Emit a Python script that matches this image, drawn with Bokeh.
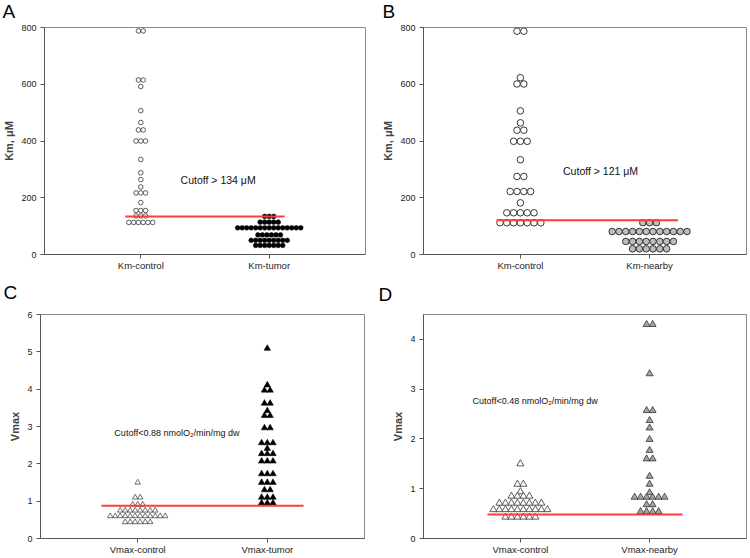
from bokeh.plotting import figure
from bokeh.layouts import column, row
from bokeh.models import FixedTicker, Label
from bokeh.embed import file_html
from bokeh.resources import INLINE

FONT = "Liberation Sans"

# ---------------- data ----------------
km_cats_a = ["Km-control", "Km-tumor"]
km_control_a = [788, 788, 615, 615, 592, 507, 465, 439, 439, 400, 400, 400, 335, 288, 264, 238,
                217, 217, 217, 183, 155, 155, 155, 136, 136, 136, 113, 113, 113, 113, 113, 113]
km_tumor = [134, 134, 134, 114, 114, 114, 114, 114,
            94, 94, 94, 94, 94, 94, 94, 94, 94, 94, 94, 94, 94, 94, 94,
            69, 69, 69, 69, 69, 69, 50, 50, 50, 50, 50, 50, 50, 50, 50,
            32, 32, 32, 32, 32, 32, 32]
km_cutoff_a = 134

km_cats_b = ["Km-control", "Km-nearby"]
km_control_b = [787, 787, 623, 601, 601, 506, 464, 438, 438, 399, 399, 399, 334, 275, 275,
                222, 222, 222, 222, 182, 147, 147, 147, 147, 147, 112, 112, 112, 112, 112, 112, 112]
km_nearby = [112, 112, 112, 81, 81, 81, 81, 81, 81, 81, 81, 81, 81, 81, 81,
             46, 46, 46, 46, 46, 46, 46, 46, 20, 20, 20, 20, 20, 20]
km_cutoff_b = 121

vm_cats_c = ["Vmax-control", "Vmax-tumor"]
vm_control_c = [1.50, 1.10, 1.10, 0.91, 0.91, 0.91,
                0.75, 0.75, 0.75, 0.75, 0.75, 0.75, 0.75, 0.75,
                0.60, 0.60, 0.60, 0.60, 0.60, 0.60, 0.60, 0.60, 0.60, 0.60, 0.60, 0.60,
                0.44, 0.44, 0.44, 0.44, 0.44, 0.44]
vm_tumor = [5.09, 4.11, 3.97, 3.97, 3.62, 3.62, 3.42, 3.29, 3.29, 2.96, 2.96,
            2.56, 2.56, 2.56, 2.41, 2.27, 2.27, 2.27, 2.07, 2.07, 2.07,
            1.73, 1.73, 1.73, 1.50, 1.50, 1.50, 1.30, 1.30, 1.10, 1.10, 1.10, 0.95, 0.95, 0.95]
vm_cutoff_c = 0.88

vm_cats_d = ["Vmax-control", "Vmax-nearby"]
vm_control_d = [1.50, 1.09, 1.09, 0.94, 0.85, 0.85, 0.85, 0.85,
                0.71, 0.71, 0.71, 0.71, 0.71, 0.71, 0.71, 0.71,
                0.58, 0.58, 0.58, 0.58, 0.58, 0.58, 0.58, 0.58, 0.58, 0.58,
                0.43, 0.43, 0.43, 0.43, 0.43, 0.43]
vm_nearby = [4.30, 4.30, 3.31, 2.57, 2.57, 2.37, 2.22, 1.99, 1.77, 1.60, 1.60, 1.25, 1.09, 0.92,
             0.83, 0.83, 0.83, 0.83, 0.83, 0.83, 0.68, 0.68, 0.54, 0.54, 0.54, 0.54]
vm_cutoff_d = 0.48

km_ticks = [0, 200, 400, 600, 800]
vm_ticks_c = [0, 1, 2, 3, 4, 5, 6]
vm_ticks_d = [0, 1, 2, 3, 4]


def swarm(center, values, spacing_px, px_per_unit):
    xs, ys = [], []
    seen = []
    for v in values:
        if v not in seen:
            seen.append(v)
    for v in seen:
        n = values.count(v)
        for i in range(n):
            xs.append(center + (i - (n - 1) / 2) * spacing_px / px_per_unit)
            ys.append(v)
    return xs, ys


def letter_fig(letter, width, height, lx, ly):
    f = figure(width=width, height=height, output_backend="svg", toolbar_location=None, title=None,
               x_axis_type=None, y_axis_type=None, min_border=0, x_range=(0, 1), y_range=(0, 1))
    f.grid.visible = False
    f.outline_line_color = None
    f.add_layout(Label(x=lx, y=ly, x_units="screen", y_units="screen", text=letter, text_font=FONT,
                       text_font_size="19px", text_color="black", text_baseline="top"))
    return f


def panel(cats, ymax, ticks, ylabel, width, height, fw, fh, bl, bt):
    br = width - bl - fw
    bb = height - bt - fh
    p = figure(width=width, height=height, output_backend="svg", toolbar_location=None, title=None,
               x_range=(0.25, 2.75), y_range=(0, ymax), min_border_left=bl, min_border_top=bt,
               min_border_right=br, min_border_bottom=bb)
    p.grid.visible = False
    p.outline_line_color = "#8a8a8a"
    p.outline_line_width = 1
    p.xaxis.ticker = FixedTicker(ticks=[1, 2])
    p.xaxis.major_label_overrides = {1: cats[0], 2: cats[1]}
    p.yaxis.ticker = FixedTicker(ticks=ticks)
    for ax in (p.xaxis[0], p.yaxis[0]):
        ax.axis_line_color = "#555555"
        ax.major_tick_line_color = "#555555"
        ax.minor_tick_line_color = None
        ax.major_tick_in = 0
        ax.major_tick_out = 4
        ax.major_label_text_font = FONT
        ax.major_label_text_color = "#222222"
    p.xaxis.major_label_text_font_size = "9.5px"
    p.xaxis.major_label_standoff = 1
    p.yaxis.major_label_text_font_size = "9px"
    p.yaxis.major_label_standoff = 4
    p.yaxis.axis_label = ylabel
    p.yaxis.axis_label_text_font = FONT
    p.yaxis.axis_label_text_font_style = "bold"
    p.yaxis.axis_label_text_font_size = "11px"
    p.yaxis.axis_label_standoff = 3
    return p


# layout geometry (page starts at 0,0)
W1, W2 = 378, 370
LH1, LH2 = 22, 28
H1, H2 = 259, 248
FW1, FW2 = 324, 323
FH = 227

LA = letter_fig("A", W1, LH1, 2, 22)
LB = letter_fig("B", W2, LH1, 4, 22)
LC = letter_fig("C", W1, LH2, 3, 28)
LD = letter_fig("D", W2, LH2, 0, 26)

# ---- A ----
pA = panel(km_cats_a, 800, km_ticks, "Km, \u03bcM", W1, H1, FW1, FH, 41, 5)
ppu = FW1 / 2.5
x, y = swarm(1, km_control_a, 4.8, ppu)
pA.scatter(x, y, marker="circle", size=4.6, fill_color="white", line_color="#333333", line_width=0.8)
x, y = swarm(2, km_tumor, 4.55, ppu)
pA.scatter(x, y, marker="circle", size=4.8, fill_color="black", line_color="black", line_width=0.5)
pA.line([0.88, 2.12], [km_cutoff_a, km_cutoff_a], line_color="#ff3b3b", line_width=2)
pA.text([1.31], [261], text=["Cutoff > 134 \u03bcM"], text_font={"value": FONT}, text_font_size="10.5px",
        text_baseline="middle", text_color="#111111")

# ---- B ----
pB = panel(km_cats_b, 800, km_ticks, "Km, \u03bcM", W2, H1, FW2, FH, 45, 5)
ppu = FW2 / 2.5
x, y = swarm(1, km_control_b, 6.8, ppu)
pB.scatter(x, y, marker="circle", size=6.6, fill_color="white", line_color="#222222", line_width=0.9)
x, y = swarm(2, km_nearby, 6.8, ppu)
pB.scatter(x, y, marker="circle", size=6.6, fill_color="#bdbdbd", line_color="#222222", line_width=0.9)
pB.line([0.815, 2.22], [km_cutoff_b, km_cutoff_b], line_color="#ff3b3b", line_width=2)
pB.text([1.33], [296], text=["Cutoff > 121 \u03bcM"], text_font={"value": FONT}, text_font_size="10.5px",
        text_baseline="middle", text_color="#111111")

# ---- C ----
pC = panel(vm_cats_c, 6, vm_ticks_c, "Vmax", W1, H2, FW1, FH, 40, 5)
ppu = FW1 / 2.5
x, y = swarm(1, vm_control_c, 5.0, ppu)
pC.scatter(x, y, marker="triangle", size=5.5, fill_color="white", line_color="#333333", line_width=0.7)
x, y = swarm(2, vm_tumor, 5.7, ppu)
pC.scatter(x, y, marker="triangle", size=6.5, fill_color="black", line_color="black", line_width=0.5)
pC.line([0.72, 2.28], [vm_cutoff_c, vm_cutoff_c], line_color="#ff3b3b", line_width=2)
pC.text([0.82], [2.83], text=["Cutoff<0.88 nmolO\u2082/min/mg dw"], text_font={"value": FONT},
        text_font_size="9px", text_baseline="middle", text_color="#111111")

# ---- D ----
pD = panel(vm_cats_d, 4.5, vm_ticks_d, "Vmax", W2, H2, FW2, FH, 45, 4)
ppu = FW2 / 2.5
x, y = swarm(1, vm_control_d, 6.0, ppu)
pD.scatter(x, y, marker="triangle", size=7, fill_color="white", line_color="#333333", line_width=0.8)
x, y = swarm(2, vm_nearby, 6.0, ppu)
pD.scatter(x, y, marker="triangle", size=7, fill_color="#a3a3a3", line_color="#333333", line_width=0.8)
pD.line([0.745, 2.255], [vm_cutoff_d, vm_cutoff_d], line_color="#ff3b3b", line_width=2)
pD.text([0.63], [2.77], text=["Cutoff<0.48 nmolO\u2082/min/mg dw"], text_font={"value": FONT},
        text_font_size="9px", text_baseline="middle", text_color="#111111")

layout = column(row(LA, LB), row(pA, pB), row(LC, LD), row(pC, pD))
open("out.html", "w").write(file_html(layout, INLINE))
